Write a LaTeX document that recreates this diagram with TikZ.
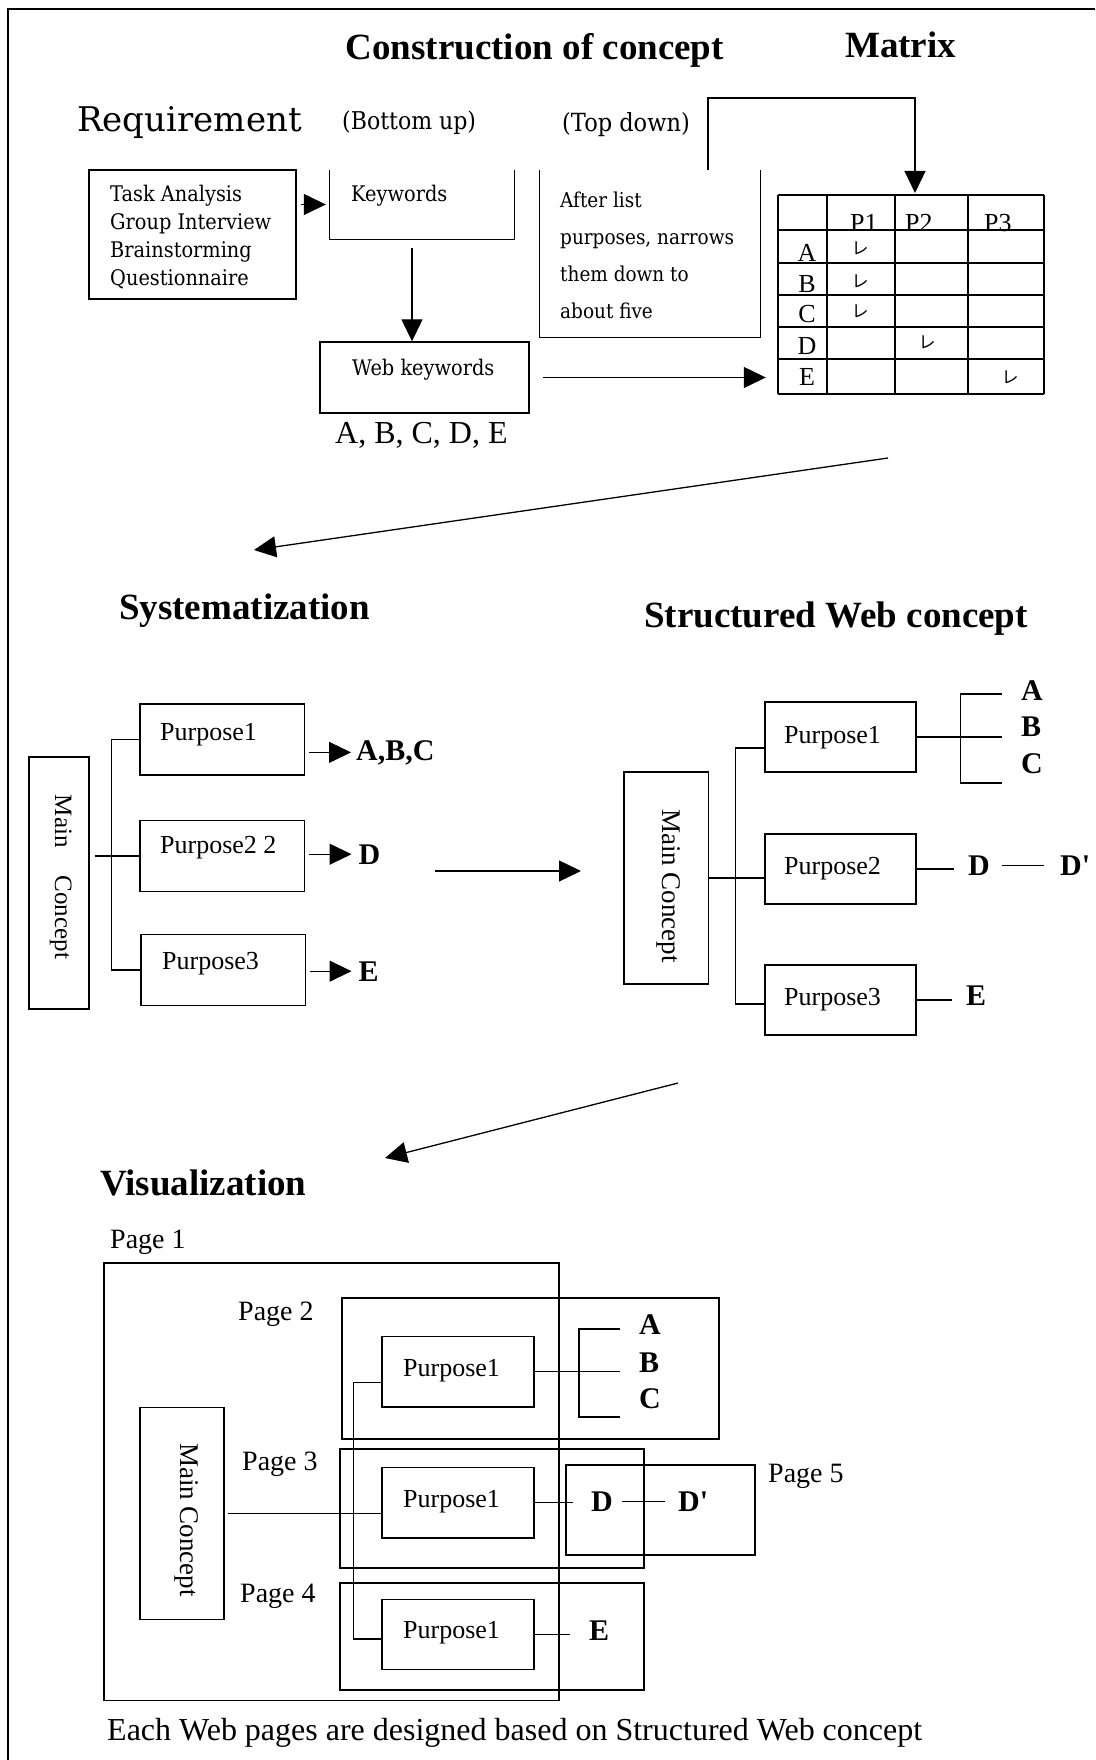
\documentclass[tikz,border=0pt]{standalone}
\usepackage{fontspec}
\setmainfont{Liberation Serif}
\newfontfamily\cent{DejaVu Serif}
\newfontfamily\centn[FakeStretch=0.9]{DejaVu Serif}
\newfontfamily\cjk{Noto Sans CJK JP}
\usepackage{tikz}
\usetikzlibrary{arrows.meta, positioning}
\newcommand\pxsize[1]{\fontsize{#1}{#1}\selectfont}
\tikzset{
  frame/.style = {line width=1.4pt},
  box/.style   = {draw, line width=1.4pt, inner sep=0pt},
  area/.style  = {inner sep=0pt},
  link/.style  = {line width=1.3pt},
  arr/.style   = {link, -{Triangle[length=22pt,width=21pt]}},
  grid/.style  = {line width=1.3pt},
  head/.style  = {font=\pxsize{37}\bfseries, anchor=base west, inner sep=0pt},
  note/.style  = {font=\centn\pxsize{21.5}, anchor=base west, inner sep=0pt},
  txt/.style   = {font=\pxsize{26}, anchor=base west, inner sep=0pt},
  key/.style   = {font=\pxsize{30}\bfseries, anchor=base west, inner sep=0pt},
  tick/.style  = {font=\cjk\pxsize{17}, inner sep=0pt},
  vert/.style  = {font=\pxsize{27}, rotate=-90, anchor=base, inner sep=0pt},
}

\begin{document}
\begin{tikzpicture}[x=1pt, y=-1pt]
  \useasboundingbox (0,0) rectangle (1095,1760);

  % ── Outer frame (runs off the right and bottom) ─────────────────
  \coordinate (fbl) at (8,1760);
  \coordinate (ftl) at (8,9);
  \coordinate (ftr) at (1095,9);
  \draw[frame] (fbl) -- (ftl) -- (ftr);

  % ── Construction of concept ─────────────────────────────────────
  \node[head] (tcons) at (345.5,60) {Construction of concept};
  \node[head] (tmat)  at (845,58)   {Matrix};
  \node[head, font=\cent\pxsize{34}] (treq) at (77,132) {Requirement};
  \node[note, font=\centn\pxsize{24.5}] (tbu) at (342,130) {(Bottom up)};
  \node[note, font=\centn\pxsize{25}] (ttd) at (562,132) {(Top down)};

  % requirement methods
  \node[box, minimum width=207pt, minimum height=129pt] (req) at (192.5,234.5) {};
  \foreach \t [count=\i] in {Task Analysis, Group Interview, Brainstorming, Questionnaire}
    \node[note] (req\i) at (110,174+28*\i) {\t};

  % keywords (box open at the top)
  \node[area, minimum width=184pt, minimum height=69pt] (kw) at (422,204.5) {};
  \draw[link] (kw.north west) -- (kw.south west) -- (kw.south east) -- (kw.north east);
  \node[note] (kwt) at (351,202) {Keywords};

  \node[box, minimum width=209pt, minimum height=71pt] (wkw) at (424.5,377.5) {};
  \node[note] (wkwt) at (352,375) {Web keywords};
  \node[txt, font=\pxsize{32}] (abcde) at (335,443) {A, B, C, D, E};

  % top down purposes (box open at the top)
  \node[area, minimum width=220pt, minimum height=167pt] (td) at (650,253.5) {};
  \draw[link] (td.north west) -- (td.south west) -- (td.south east) -- (td.north east);
  \foreach \t [count=\i] in {After list, {purposes, narrows}, them down to, about five}
    \node[note, font=\centn\pxsize{20.5}] (td\i) at (560,171+37*\i) {\t};

  % ── Matrix ──────────────────────────────────────────────────────
  \node[area, minimum width=266pt, minimum height=199pt] (mat) at (911,294.5) {};
  \node[txt] (mp1) at (850,232) {P1};
  \node[txt] (mp2) at (905,232) {P2};
  \node[txt] (mp3) at (984,232) {P3};
  \foreach \r/\y in {A/262, B/293, C/323, D/354, E/385}
    \node[txt, anchor=base] (m\r) at (807,\y) {\r};
  \foreach \x/\y [count=\i] in {860/248, 860/281, 860/311, 927/342, 1010/377}
    \node[tick] (ck\i) at (\x,\y) {レ};
  \foreach \x in {778,827,895,968,1044} \draw[grid] (\x,195) -- (\x,394);
  \foreach \y in {195,230,263,295,327,359,394} \draw[grid] (778,\y) -- (1044,\y);

  % ── Arrows of the first stage ───────────────────────────────────
  \draw[arr, shorten <=4pt, shorten >=4pt] (req.east |- kw.west) -- (kw.west);
  \draw[arr, shorten <=9pt] ([xshift=-10pt]kw.south) -- ([xshift=-10pt]kw.south |- wkw.north);
  \draw[arr, shorten <=13pt, shorten >=12pt] (wkw.east) -- (wkw.east -| mat.west);
  \coordinate (tdout) at (708,170);
  \coordinate (matin) at (915,195);
  \draw[arr, shorten >=2pt] (tdout) -- ++(0,-72) -| (matin);

  \coordinate (d1s) at (888,458);
  \coordinate (d1e) at (254,550);
  \draw[arr] (d1s) -- (d1e);

  % ── Systematization ─────────────────────────────────────────────
  \node[head] (tsys) at (119,619) {Systematization};
  \node[box, minimum width=60pt, minimum height=252pt] (smain) at (59,883) {};
  \node[vert, font=\pxsize{25}] (smaint) at (55,877) {Main\hspace{28pt}Concept};

  \node[box, minimum width=164.5pt, minimum height=71pt] (sp1) at (222.25,739.5) {};
  \node[box, minimum width=164.5pt, minimum height=71pt] (sp2) at (222.25,856) {};
  \node[box, minimum width=164.5pt, minimum height=71pt] (sp3) at (223.25,970) {};
  \node[txt] (sp1t) at (160,740) {Purpose1};
  \node[txt] (sp2t) at (160,853) {Purpose2 2};
  \node[txt] (sp3t) at (162,969) {Purpose3};

  \node[key] (sabc) at (356,760) {A,B,C};
  \node[key] (sd)   at (358.5,864) {D};
  \node[key] (se)   at (358.5,981) {E};

  \draw[link, shorten <=5pt] (smain.east |- sp2.west) -- (sp2.west);
  \draw[link] (sp1.west) -- ++(-28,0) |- (sp3.west);
  \draw[arr, shorten <=4pt, shorten >=5pt] (sp1.east |- sabc.west) -- (sabc.west);
  \draw[arr, shorten <=4pt, shorten >=7pt] (sp2.east |- sd.west) -- (sd.west);
  \draw[arr, shorten <=4pt, shorten >=7pt] (sp3.east |- se.west) -- (se.west);

  \coordinate (m1) at (435,871);
  \coordinate (m2) at (581,871);
  \draw[arr] (m1) -- (m2);

  % ── Structured Web concept ──────────────────────────────────────
  \node[head] (tweb) at (644,627) {Structured Web concept};
  \node[box, minimum width=84.5pt, minimum height=212pt] (wmain) at (666.25,878) {};
  \node[vert] (wmaint) at (662,886) {Main Concept};

  \node[box, minimum width=151pt, minimum height=70pt] (wp1) at (840.5,737) {};
  \node[box, minimum width=151pt, minimum height=70pt] (wp2) at (840.5,869) {};
  \node[box, minimum width=151pt, minimum height=70pt] (wp3) at (840.5,1000) {};
  \node[txt] (wp1t) at (784,743)  {Purpose1};
  \node[txt] (wp2t) at (784,874)  {Purpose2};
  \node[txt] (wp3t) at (784,1005) {Purpose3};

  \node[key] (wa)  at (1021,700) {A};
  \node[key] (wb)  at (1021,736) {B};
  \node[key] (wc)  at (1021,773) {C};
  \node[key] (wd)  at (968,875)  {D};
  \node[key] (wdd) at (1060,875) {D\textquotesingle};
  \node[key] (we)  at (966,1005) {E};

  \draw[link] (wmain.east) -- (wmain.east -| wp2.west);
  \draw[link] ([yshift=-11pt]wp1.west) -- ++(-29,0) |- ([yshift=-4pt]wp3.west);
  \draw[link] (wp1.east) -- ++(85,0);
  \coordinate (wbr) at (960.5,694);
  \draw[link] (wbr) ++(41,0) -- (wbr) -- ++(0,89) -- ++(41,0);
  \draw[link, shorten >=14pt] (wp2.east) -- (wp2.east -| wd.west);
  \draw[link, shorten <=12pt, shorten >=16pt] (wd.east) -- (wd.east -| wdd.west);
  \draw[link, shorten >=14pt] (wp3.east) -- (wp3.east -| we.west);

  \coordinate (d2s) at (678,1083);
  \coordinate (d2e) at (385,1158);
  \draw[arr] (d2s) -- (d2e);

  % ── Visualization ───────────────────────────────────────────────
  \node[head] (tvis) at (100,1195) {Visualization};

  % web pages
  \node[box, minimum width=455pt, minimum height=437.5pt] (pg1) at (331.5,1481.75) {};
  \node[box, minimum width=377pt, minimum height=141pt]   (pg2) at (530.5,1368.5) {};
  \node[box, minimum width=304pt, minimum height=119pt]   (pg3) at (492,1508.5) {};
  \node[box, minimum width=304pt, minimum height=107pt]   (pg4) at (492,1636.5) {};
  \node[box, minimum width=189pt, minimum height=90pt]    (pg5) at (660.5,1510) {};
  \node[txt, font=\pxsize{28}] (pg1t) at (110,1248) {Page 1};
  \node[txt, font=\pxsize{28}] (pg2t) at (238,1320) {Page 2};
  \node[txt, font=\pxsize{28}] (pg3t) at (242,1470) {Page 3};
  \node[txt, font=\pxsize{28}] (pg4t) at (240,1602) {Page 4};
  \node[txt, font=\pxsize{28}] (pg5t) at (768,1482) {Page 5};

  \node[box, minimum width=84pt, minimum height=212pt] (vmain) at (182,1513.5) {};
  \node[vert] (vmaint) at (180,1520) {Main Concept};

  \node[box, minimum width=152pt, minimum height=70.5pt] (vp1) at (458,1371.75) {};
  \node[box, minimum width=152pt, minimum height=70.5pt] (vp2) at (458,1502.75) {};
  \node[box, minimum width=152pt, minimum height=70.5pt] (vp3) at (458,1634.5) {};
  \node[txt] (vp1t) at (403,1376) {Purpose1};
  \node[txt] (vp2t) at (403,1507) {Purpose1};
  \node[txt] (vp3t) at (403,1638) {Purpose1};

  \node[key] (va)  at (639,1334) {A};
  \node[key] (vb)  at (639,1372) {B};
  \node[key] (vc)  at (639,1408) {C};
  \node[key] (vd)  at (591,1511) {D};
  \node[key] (vdd) at (678,1511) {D\textquotesingle};
  \node[key] (ve)  at (589,1640) {E};

  \draw[link, shorten <=3pt] (vmain.east) -- (vmain.east -| vp2.west);
  \draw[link] ([yshift=-11pt]vp1.west) -- ++(-28,0) |- ([yshift=-4.5pt]vp3.west);
  \draw[link] (vp1.east) -- ++(85,0);
  \coordinate (vbr) at (579,1329);
  \draw[link] (vbr) ++(41,0) -- (vbr) -- ++(0,88) -- ++(41,0);
  \draw[link, shorten >=18pt] (vp2.east) -- (vp2.east -| vd.west);
  \draw[link, shorten <=9pt, shorten >=13pt] (vd.east) -- (vd.east -| vdd.west);
  \draw[link, shorten >=19pt] (vp3.east) -- (vp3.east -| ve.west);

  \node[txt, font=\pxsize{32}] (cap) at (107,1740)
    {Each Web pages are designed based on Structured Web concept};

\end{tikzpicture}
\end{document}
